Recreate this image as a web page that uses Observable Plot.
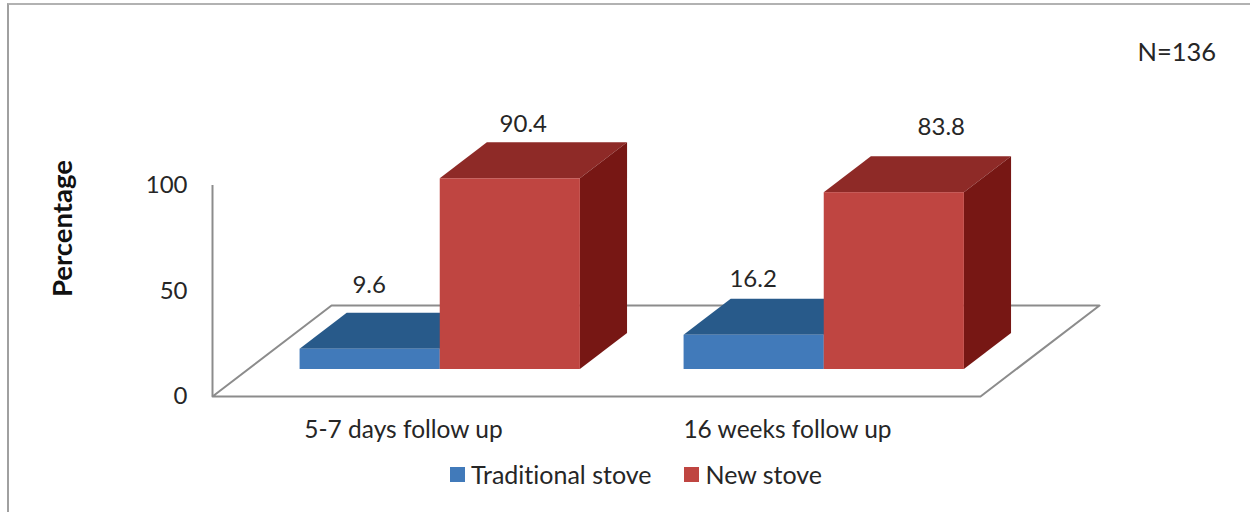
<!DOCTYPE html>
<html>
<head>
<meta charset="utf-8">
<script src="https://cdn.jsdelivr.net/npm/d3@7"></script>
<script src="https://cdn.jsdelivr.net/npm/@observablehq/plot@0.6"></script>
<style>
  html, body { margin: 0; padding: 0; background: #fff; width: 1250px; height: 512px; overflow: hidden; }
  body { position: relative; font-family: Lato, sans-serif; color: #262626; font-variant-ligatures: none; }
  #frame { position: absolute; left: 7px; top: 3px; right: 0; bottom: 0; border-top: 2px solid #b2b2b2; border-left: 2px solid #a0a0a0; pointer-events: none; }
  #legend { position: absolute; left: 450px; top: 459px; display: flex; align-items: center; font-size: 25px; line-height: 30px; }
  #legend span.sw { width: 15px; height: 15px; display: inline-block; margin-right: 6px; }
  #legend span.item { display: inline-flex; align-items: center; margin-right: 33px; }
</style>
</head>
<body>
<div id="frame"></div>
<div id="chart"></div>
<div id="legend"></div>
<script>
// Data
const categories = ["5-7 days follow up", "16 weeks follow up"];
const seriesNames = ["Traditional stove", "New stove"];
const traditional = [9.6, 16.2];
const newStove = [90.4, 83.8];
const yTicks = [0, 50, 100];
const note = "N=136";
const axisTitle = "Percentage";

// Styles
const palette = {
  "Traditional stove": {front: "#417ABA", top: "#285A8A", side: "#1F4A75"},
  "New stove": {front: "#BF4541", top: "#8E2A27", side: "#771714"}
};
const ink = "#262626";
const wall = "#8c8c8c";
const font = "Lato, sans-serif";

// Oblique projection of the 3-D chart (depth 0 = front of floor, 1 = back)
const depthX = 0.31, depthY = 43.1;
const px = (x, d) => x + d * depthX;
const py = (v, d) => v + d * depthY;
const dFront = 0.297, dBack = 0.693;
const barW = 0.365, inset = 0.136;

const bars = [];
seriesNames.forEach((s, si) => {
  const vals = si === 0 ? traditional : newStove;
  vals.forEach((v, c) => bars.push({series: s, cat: c, v,
    x1: c + inset + si * barW, x2: c + inset + (si + 1) * barW}));
});

const floor = [[0,0],[2,0],[2,1],[0,1],[0,0]].map(([x, d]) => ({x: px(x, d), y: py(0, d)}));

function barMarks(b) {
  const top = [
    {y: py(b.v, dFront), x1: px(b.x1, dFront), x2: px(b.x2, dFront)},
    {y: py(b.v, dBack),  x1: px(b.x1, dBack),  x2: px(b.x2, dBack)}
  ];
  const side = [
    {x: px(b.x2, dFront), y1: py(0, dFront), y2: py(b.v, dFront)},
    {x: px(b.x2, dBack),  y1: py(0, dBack),  y2: py(b.v, dBack)}
  ];
  return [
    Plot.areaX(top, {y: "y", x1: "x1", x2: "x2", fill: palette[b.series].top}),
    Plot.areaY(side, {x: "x", y1: "y1", y2: "y2", fill: palette[b.series].side}),
    Plot.rectY([b], {
      x1: d => px(d.x1, dFront), x2: d => px(d.x2, dFront),
      y1: () => py(0, dFront), y2: d => py(d.v, dFront),
      fill: palette[b.series].front
    })
  ];
}

// Value labels were hand-placed in the source chart, so each has its own nudge from the bar's front top centre
// Order: 9.6, 16.2, 90.4, 83.8
const labelNudge = [[-1, -64], [-1, -56], [13, -54], [47, -65]];
const labelMarks = bars.map((b, i) => Plot.text([b], {
  x: d => px((d.x1 + d.x2) / 2, dFront),
  y: d => py(d.v, dFront),
  text: d => d.v.toFixed(1),
  dx: labelNudge[i][0], dy: labelNudge[i][1],
  fontSize: 24, fill: ink
}));

const chart = Plot.plot({
  width: 1250,
  height: 512,
  marginLeft: 212,
  marginRight: 270,
  marginTop: 185,
  marginBottom: 116,
  style: {fontFamily: font, background: "transparent", overflow: "visible"},
  x: {domain: [0, 2], label: null},
  y: {domain: [0, 100], label: null},
  marks: [
    Plot.ruleX([0], {y1: 0, y2: 100, stroke: wall, strokeWidth: 2}),
    Plot.line(floor, {x: "x", y: "y", stroke: wall, strokeWidth: 2}),
    ...bars.flatMap(barMarks),
    ...labelMarks,
    Plot.axisY({ticks: yTicks, tickSize: 0, tickPadding: 25, fontSize: 24, label: null, fill: ink}),
    Plot.axisX({ticks: [0.5, 1.5], tickSize: 0, tickPadding: 24, fontSize: 24.5, dx: -1, label: null, fill: ink,
                tickFormat: d => categories[Math.floor(d)]}),
    Plot.text([axisTitle], {x: () => -0.388, y: () => 79.6, text: d => d, rotate: -90, fontSize: 27.5, fontWeight: "bold", fill: "#111"}),
    Plot.text([note], {x: () => 2.511, y: () => 163, text: d => d, fontSize: 25.5, fill: ink})
  ]
});
document.getElementById("chart").appendChild(chart);

const legend = document.getElementById("legend");
seriesNames.forEach(s => {
  const item = document.createElement("span");
  item.className = "item";
  const sw = document.createElement("span");
  sw.className = "sw";
  sw.style.background = palette[s].front;
  item.appendChild(sw);
  item.appendChild(document.createTextNode(s));
  legend.appendChild(item);
});
</script>
</body>
</html>
